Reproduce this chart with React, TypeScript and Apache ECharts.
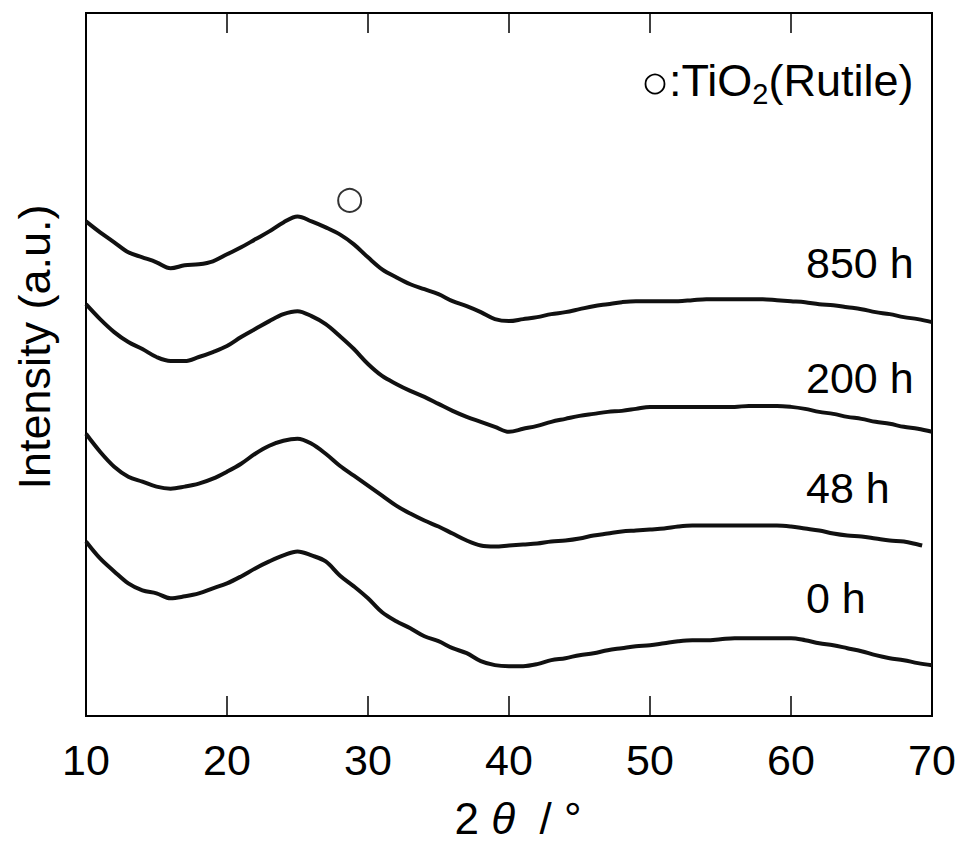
import React, { useEffect, useRef } from "react";
import * as echarts from "echarts";

// 2θ positions (degrees)
const twoTheta = [10, 11, 12, 13, 14, 15, 16, 17, 18, 19, 20, 21, 22, 23, 24, 25, 26, 27, 28, 29, 30, 31, 32, 33, 34, 35, 36, 37, 38, 39, 40, 41, 42, 43, 44, 45, 46, 47, 48, 49, 50, 51, 52, 53, 54, 55, 56, 57, 58, 59, 60, 61, 62, 63, 64, 65, 66, 67, 68, 69, 70];
const twoTheta48 = [10, 11, 12, 13, 14, 15, 16, 17, 18, 19, 20, 21, 22, 23, 24, 25, 26, 27, 28, 29, 30, 31, 32, 33, 34, 35, 36, 37, 38, 39, 40, 41, 42, 43, 44, 45, 46, 47, 48, 49, 50, 51, 52, 53, 54, 55, 56, 57, 58, 59, 60, 61, 62, 63, 64, 65, 66, 67, 68, 69, 69.3];

// Intensity (a.u., offset for stacking)
const i850h = [496, 485, 475, 465, 460, 455, 449, 452, 453, 456, 463, 470, 478, 486, 495, 501, 496, 490, 483, 473, 460, 448, 440, 433, 428, 423, 416, 411, 405, 398, 396, 398, 400, 403, 405, 408, 411, 413, 415, 416, 416, 416, 416, 417, 418, 418, 418, 418, 418, 417, 416, 415, 413, 412, 410, 408, 405, 403, 400, 398, 395];
const i200h = [413, 398, 385, 375, 368, 360, 356, 356, 360, 365, 371, 380, 388, 396, 403, 406, 401, 393, 381, 368, 353, 341, 333, 326, 320, 313, 306, 300, 295, 290, 285, 288, 291, 295, 298, 301, 303, 305, 306, 308, 310, 310, 310, 310, 310, 310, 310, 311, 311, 311, 310, 308, 305, 303, 300, 298, 295, 293, 290, 288, 285];
const i48h = [283, 265, 250, 240, 235, 230, 228, 230, 233, 238, 245, 253, 263, 271, 276, 278, 273, 263, 251, 241, 231, 221, 211, 203, 196, 190, 183, 176, 171, 170, 171, 172, 173, 175, 176, 178, 181, 183, 185, 186, 187, 188, 190, 191, 191, 191, 191, 191, 191, 191, 190, 188, 186, 183, 181, 180, 178, 176, 175, 172, 171];
const i0h = [175, 158, 145, 133, 126, 123, 118, 120, 123, 128, 133, 140, 148, 155, 161, 165, 161, 155, 141, 130, 118, 104, 95, 88, 80, 75, 68, 63, 55, 51, 50, 50, 52, 56, 58, 61, 63, 66, 68, 70, 71, 73, 75, 76, 76, 77, 78, 78, 78, 78, 78, 76, 73, 71, 68, 65, 61, 58, 56, 53, 51];

// TiO2 (rutile) reflection marker
const rutileMarks = [[28.7, 517]];

const xTicks = [10, 20, 30, 40, 50, 60, 70];
const seriesNames = ["850 h", "200 h", "48 h", "0 h"];

const pair = (xs: number[], ys: number[]) => xs.map((x, i) => [x, ys[i]]);

export default function App() {
  const ref = useRef<HTMLDivElement>(null);
  useEffect(() => {
    if (!ref.current) return;
    const chart = echarts.init(ref.current, null, { renderer: "svg" });
    const font = "Liberation Sans, Arial, Helvetica, sans-serif";
    const lineStyle = { color: "#111", width: 4 };
    const mkLine = (name: string, xs: number[], ys: number[]) => ({
      name,
      type: "line",
      data: pair(xs, ys),
      showSymbol: false,
      symbol: "none",
      smooth: 0.35,
      lineStyle,
      silent: true,
    });
    const curveLabels = [
      { text: seriesNames[0], y: 263 },
      { text: seriesNames[1], y: 378 },
      { text: seriesNames[2], y: 488 },
      { text: seriesNames[3], y: 598 },
    ];
    chart.setOption({
      animation: false,
      backgroundColor: "#fff",
      grid: {
        left: 86,
        right: 30,
        top: 13,
        bottom: 127,
        show: true,
        borderColor: "#000",
        borderWidth: 2,
        backgroundColor: "transparent",
      },
      xAxis: [
        {
          type: "value",
          min: 10,
          max: 70,
          interval: 10,
          position: "bottom",
          axisLine: { show: false },
          axisTick: { show: true, inside: true, length: 20, lineStyle: { color: "#000", width: 1.5 } },
          splitLine: { show: false },
          axisLabel: {
            show: true,
            margin: 22,
            fontSize: 43,
            color: "#000",
            fontFamily: font,
            showMinLabel: true,
            showMaxLabel: true,
            customValues: xTicks,
          },
          name: "{n|2}{i| θ}{n|  / °}",
          nameLocation: "middle",
          nameGap: 80,
          nameTextStyle: {
            padding: [0, 0, 0, 18],
            rich: {
              n: { fontSize: 44, fontFamily: font, color: "#000" },
              i: { fontSize: 44, fontFamily: font, fontStyle: "italic", color: "#000" },
            },
          },
        },
        {
          type: "value",
          min: 10,
          max: 70,
          interval: 10,
          position: "top",
          axisLine: { show: false },
          axisTick: { show: true, inside: true, length: 20, lineStyle: { color: "#000", width: 1.5 } },
          axisLabel: { show: false },
          splitLine: { show: false },
        },
      ],
      yAxis: {
        type: "value",
        min: 0,
        max: 705,
        axisLine: { show: false },
        axisTick: { show: false },
        axisLabel: { show: false },
        splitLine: { show: false },
      },
      graphic: [
        {
          type: "text",
          x: 34,
          y: 347,
          rotation: Math.PI / 2,
          style: {
            text: "Intensity (a.u.)",
            fontSize: 45,
            fontFamily: font,
            fill: "#000",
            align: "center",
            verticalAlign: "middle",
          },
        },
        ...curveLabels.map((c) => ({
          type: "text",
          x: 806,
          y: c.y,
          style: {
            text: c.text,
            fontSize: 43,
            fontFamily: font,
            fill: "#000",
            align: "left",
            verticalAlign: "middle",
          },
        })),
        {
          type: "circle",
          shape: { cx: 655, cy: 84, r: 9.5 },
          style: { fill: "#fff", stroke: "#000", lineWidth: 1.8 },
        },
        {
          type: "text",
          x: 669,
          y: 52,
          style: {
            text: "{n|:TiO}{s|2}{n|(Rutile)}",
            fill: "#000",
            align: "left",
            verticalAlign: "top",
            rich: {
              n: { fontSize: 45, fontFamily: font, fill: "#000", lineHeight: 56, verticalAlign: "middle" },
              s: { fontSize: 29, fontFamily: font, fill: "#000", lineHeight: 56, verticalAlign: "bottom" },
            },
          },
        },
      ],
      series: [
        mkLine(seriesNames[0], twoTheta, i850h),
        mkLine(seriesNames[1], twoTheta, i200h),
        mkLine(seriesNames[2], twoTheta48, i48h),
        mkLine(seriesNames[3], twoTheta, i0h),
        {
          name: "TiO2 (Rutile)",
          type: "scatter",
          data: rutileMarks,
          symbol: "circle",
          symbolSize: 23,
          itemStyle: { color: "#fff", borderColor: "#000", borderWidth: 2 },
          silent: true,
        },
      ],
    });
    return () => chart.dispose();
  }, []);
  return (
    <div
      ref={ref}
      style={{ position: "fixed", left: 0, top: 0, width: 962, height: 845, background: "#fff" }}
    />
  );
}
